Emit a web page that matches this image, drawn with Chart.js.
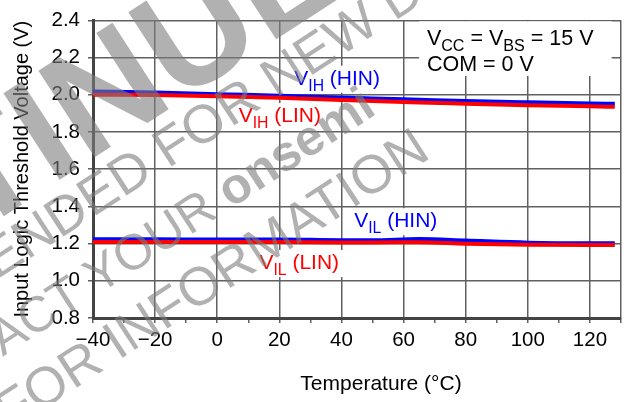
<!DOCTYPE html>
<html>
<head>
<meta charset="utf-8">
<script src="https://cdn.jsdelivr.net/npm/chart.js@4.4.1/dist/chart.umd.min.js"></script>
<style>
  html, body { margin: 0; padding: 0; background: #fff; }
  #wrap { width: 626px; height: 402px; position: relative; }
</style>
</head>
<body>
<div id="wrap"><canvas id="chart"></canvas></div>
<script>
/* Input logic threshold voltage vs temperature */

const FONT = '"Liberation Sans", Arial, Helvetica, sans-serif';

const temps  = [-40, -20, 0, 20, 40, 50, 65, 80, 100, 120, 128];
const vihHin = [2.018, 2.012, 2.003, 1.995, 1.985, 1.980, 1.973, 1.966, 1.959, 1.953, 1.951];
const vihLin = [2.000, 1.998, 1.992, 1.984, 1.972, 1.966, 1.958, 1.952, 1.944, 1.938, 1.935];
const vilHin = [1.223, 1.223, 1.222, 1.222, 1.218, 1.218, 1.224, 1.216, 1.205, 1.202, 1.202];
const vilLin = [1.209, 1.209, 1.209, 1.209, 1.206, 1.206, 1.207, 1.199, 1.194, 1.193, 1.193];

const xTickVals  = [-40, -30, -20, -10, 0, 10, 20, 30, 40, 50, 60, 70, 80, 90, 100, 110, 120, 130];
const xLabelVals = [-40, -20, 0, 20, 40, 60, 80, 100, 120];
const yTickVals  = [0.8, 1.0, 1.2, 1.4, 1.6, 1.8, 2.0, 2.2, 2.4];

const BLUE = '#0000ff';
const RED = '#ff0000';
const GRID = '#606060';

const pts = (ys) => temps.map((t, i) => ({ x: t, y: ys[i] }));

const line = (label, ys, color) => ({
  label,
  data: pts(ys),
  borderColor: color,
  borderWidth: 4,
  pointRadius: 0,
  cubicInterpolationMode: 'monotone',
  fill: false,
});

/* rich text with subscripts: parts = [[text, isSub], ...] */
function richWidth(ctx, parts, size) {
  let w = 0;
  parts.forEach(([t, sub]) => {
    ctx.font = `${sub ? size * 0.75 : size}px ${FONT}`;
    w += ctx.measureText(t).width;
  });
  return w;
}
function richText(ctx, x, y, parts, size) {
  let cx = x;
  parts.forEach(([t, sub]) => {
    ctx.font = `${sub ? size * 0.75 : size}px ${FONT}`;
    ctx.fillText(t, cx, sub ? y + size * 0.28 : y);
    cx += ctx.measureText(t).width;
  });
}

const LABELS = [
  { parts: [['V'], ['IH', true], [' (HIN)']], color: BLUE, x: 24.8, y: 2.054 },
  { parts: [['V'], ['IH', true], [' (LIN)']], color: RED,  x: 6.9,  y: 1.853 },
  { parts: [['V'], ['IL', true], [' (HIN)']], color: BLUE, x: 44.1, y: 1.288 },
  { parts: [['V'], ['IL', true], [' (LIN)']], color: RED,  x: 13.6, y: 1.063 },
];

const labelPlugin = {
  id: 'curveLabels',
  afterDatasetsDraw(chart) {
    const { ctx, scales: { x, y } } = chart;
    const size = 21;
    ctx.save();
    ctx.textBaseline = 'alphabetic';
    LABELS.forEach(l => {
      const px = x.getPixelForValue(l.x);
      const py = y.getPixelForValue(l.y);
      const w = richWidth(ctx, l.parts, size);
      ctx.fillStyle = '#fff';
      ctx.fillRect(px - 4, py - 19, w + 8, 27);
      ctx.fillStyle = l.color;
      richText(ctx, px, py, l.parts, size);
    });

    // conditions box
    const bx0 = x.getPixelForValue(65), bx1 = x.getPixelForValue(127);
    const by0 = y.getPixelForValue(2.4) + 1, by1 = y.getPixelForValue(2.101);
    ctx.fillStyle = '#fff';
    ctx.fillRect(bx0, by0, bx1 - bx0, by1 - by0);
    ctx.fillStyle = '#000';
    const tx = x.getPixelForValue(67.5);
    richText(ctx, tx, y.getPixelForValue(2.267),
      [['V'], ['CC', true], [' = V'], ['BS', true], [' = 15 V']], 21.5);
    richText(ctx, tx, y.getPixelForValue(2.129), [['COM = 0 V']], 21.5);

    // x axis title
    ctx.font = `21px ${FONT}`;
    ctx.textAlign = 'center';
    ctx.textBaseline = 'middle';
    ctx.fillText('Temperature (\u00B0C)', 381, 384);
    ctx.restore();
  }
};

/* diagonal status watermark */
const watermarkPlugin = {
  id: 'watermark',
  afterDraw(chart) {
    const ctx = chart.ctx;
    ctx.save();
    ctx.rotate(-33 * Math.PI / 180);
    ctx.fillStyle = 'rgba(125,125,125,0.6)';
    ctx.textBaseline = 'middle';
    ctx.textAlign = 'left';

    ctx.font = `bold 150px ${FONT}`;
    ctx.fillText('DISCONTINUED', -733, 142);

    ctx.font = `54px ${FONT}`;
    ctx.fillText('NOT RECOMMENDED FOR NEW DESIGN', -530, 218);

    ctx.font = `50px ${FONT}`;
    const head = 'CONTACT YOUR ';
    ctx.fillText(head, -330, 287);
    const hw = ctx.measureText(head).width;
    ctx.font = `bold 50px ${FONT}`;
    ctx.fillText('onsemi', -330 + hw, 287);

    ctx.font = `54px ${FONT}`;
    ctx.fillText('REPRESENTATIVE FOR INFORMATION', -719, 352);
    ctx.restore();
  }
};

const fmtX = v => (v < 0 ? '\u2212' + Math.abs(v) : String(v));

new Chart(document.getElementById('chart'), {
  type: 'line',
  data: {
    datasets: [
      line('VIH (LIN)', vihLin, RED),
      line('VIL (LIN)', vilLin, RED),
      line('VIH (HIN)', vihHin, BLUE),
      line('VIL (HIN)', vilHin, BLUE),
    ]
  },
  options: {
    responsive: true,
    maintainAspectRatio: false,
    animation: false,
    devicePixelRatio: 1,
    layout: { padding: { top: 9, right: 4, left: 0, bottom: 0 } },
    plugins: { legend: { display: false }, tooltip: { enabled: false } },
    scales: {
      x: {
        type: 'linear',
        min: -40,
        max: 130,
        afterBuildTicks: s => { s.ticks = xTickVals.map(v => ({ value: v })); },
        afterFit: s => { s.height = 84; },
        ticks: {
          autoSkip: false,
          maxRotation: 0,
          color: '#000',
          padding: 5,
          font: { family: FONT, size: 20.5 },
          callback: v => (xLabelVals.includes(v) ? fmtX(v) : ''),
        },
        grid: {
          color: c => (c.tick && (c.tick.value % 20 === 0 || c.tick.value === 130) ? GRID : 'rgba(0,0,0,0)'),
          tickColor: GRID,
          lineWidth: 1.5,
          tickLength: 5,
        },
        border: { color: '#444', width: 3 },
      },
      y: {
        min: 0.8,
        max: 2.4,
        afterBuildTicks: s => { s.ticks = yTickVals.map(v => ({ value: v })); },
        afterFit: s => { s.width = 93; },
        ticks: {
          color: '#000',
          padding: 8,
          font: { family: FONT, size: 20.5 },
          callback: v => Number(v).toFixed(1),
        },
        grid: { color: GRID, tickColor: GRID, lineWidth: 1.5, tickLength: 5 },
        border: { color: '#444', width: 3 },
        title: {
          display: true,
          text: 'Input Logic Threshold Voltage (V)',
          color: '#000',
          font: { family: FONT, size: 20 },
          padding: { top: 10, bottom: 0 },
        },
      },
    },
  },
  plugins: [labelPlugin, watermarkPlugin],
});
</script>
</body>
</html>
